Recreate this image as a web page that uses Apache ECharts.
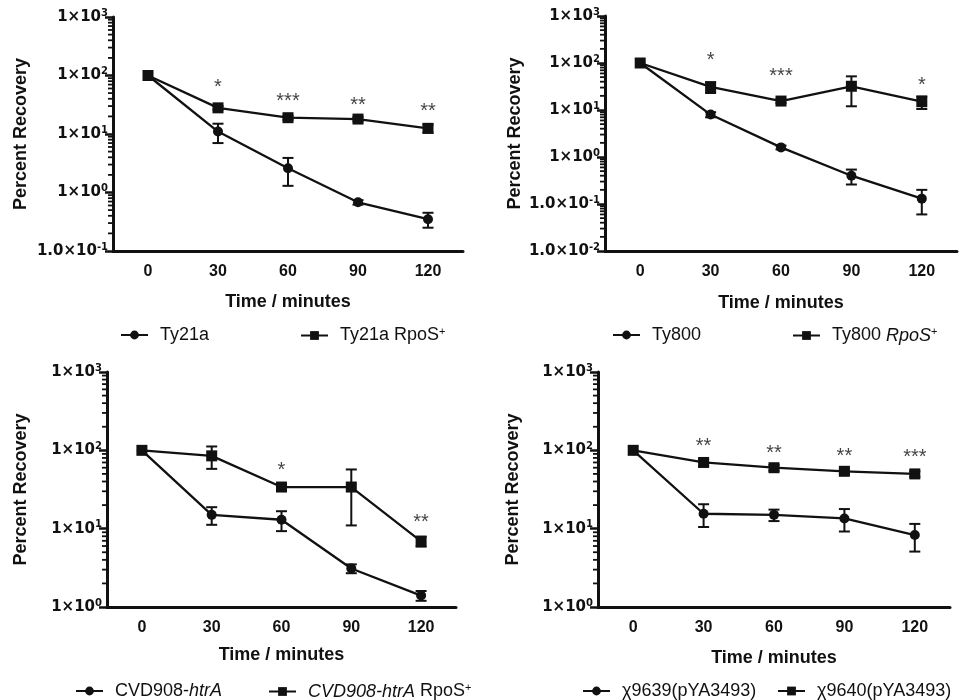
<!DOCTYPE html>
<html>
<head>
<meta charset="utf-8">
<script src="https://cdn.jsdelivr.net/npm/echarts@6/dist/echarts.min.js"></script>
<style>html,body{margin:0;padding:0;background:#fff}#c{width:972px;height:700px}</style>
</head>
<body>
<div id="c"></div>
<script>
// ---- data ----
const times = ['0', '30', '60', '90', '120'];

// Panel A
const ty21a = [100, 11, 2.6, 0.68, 0.35];
const ty21aErr = [0, 4, 1.3, 0.06, 0.1];
const ty21aRpoS = [100, 28, 19, 18, 12.5];
const ty21aRpoSErr = [0, 2, 1.5, 1.5, 2];
const starsA = ['', '*', '***', '**', '**'];
const starsAy = [null, 75, 43, 38, 29];

// Panel B
const ty800 = [100, 8, 1.6, 0.4, 0.13];
const ty800Err = [0, 1, 0.15, 0.14, 0.07];
const ty800RpoS = [100, 31, 15.5, 32, 15];
const ty800RpoSErr = [0, 8, 1.5, 20, 4.5];
const starsB = ['', '*', '***', '', '*'];
const starsBy = [null, 148, 65, null, 43];

// Panel C
const cvd = [100, 15, 13, 3.1, 1.4];
const cvdErr = [0, 3.8, 3.7, 0.4, 0.2];
const cvdRpoS = [100, 85, 34, 34, 6.9];
const cvdRpoSErr = [0, 27, 3, 23, 1];
const starsC = ['', '', '*', '', '**'];
const starsCy = [null, null, 64, null, 14];

// Panel D
const x9639 = [100, 15.5, 15, 13.5, 8.3];
const x9639Err = [0, 5, 2.5, 4.3, 3.2];
const x9640 = [100, 70, 60, 54, 50];
const x9640Err = [0, 7, 5, 4, 4];
const starsD = ['', '**', '**', '**', '***'];
const starsDy = [null, 130, 107, 97, 93];

// ---- layout / style ----
const FONT = 'Arial, "Liberation Sans", Helvetica, sans-serif';
const YFONT = '"DejaVu Sans", Arial, sans-serif';
const panels = [
  {grid:{left:113, top:17, width:350, height:234}, yMin:0.1, yMax:1000, yGap:83, xGap:42,
   s1:{name:'Ty21a', v:ty21a, e:ty21aErr}, s2:{name:'Ty21a RpoS+', v:ty21aRpoS, e:ty21aRpoSErr},
   stars:starsA, starsY:starsAy, leg:[{left:120, top:326},{left:300, top:326}]},
  {grid:{left:605, top:16, width:352, height:235}, yMin:0.01, yMax:1000, yGap:81, xGap:43,
   s1:{name:'Ty800', v:ty800, e:ty800Err}, s2:{name:'Ty800 RpoS+', v:ty800RpoS, e:ty800RpoSErr},
   stars:starsB, starsY:starsBy, leg:[{left:612, top:326},{left:792, top:326}]},
  {grid:{left:107, top:372, width:349, height:235}, yMin:1, yMax:1000, yGap:77, xGap:39,
   s1:{name:'CVD908-htrA', v:cvd, e:cvdErr}, s2:{name:'CVD908-htrA RpoS+', v:cvdRpoS, e:cvdRpoSErr},
   stars:starsC, starsY:starsCy, leg:[{left:75, top:682},{left:268, top:682}]},
  {grid:{left:598, top:372, width:352, height:235}, yMin:1, yMax:1000, yGap:76, xGap:42,
   s1:{name:'\u03c79639(pYA3493)', v:x9639, e:x9639Err}, s2:{name:'\u03c79640(pYA3493)', v:x9640, e:x9640Err},
   stars:starsD, starsY:starsDy, leg:[{left:582, top:682},{left:777, top:682}]}
];

const legendRich = {
  'Ty21a RpoS+': 'Ty21a RpoS{sup|+}',
  'Ty800 RpoS+': 'Ty800 {i|RpoS}{sup|+}',
  'CVD908-htrA': 'CVD908-{i|htrA}',
  'CVD908-htrA RpoS+': '{i|CVD908-htrA} RpoS{sup|+}'
};

function yLabel(v, min) {
  const e = Math.round(Math.log10(v));
  const mant = (min < 1) && e < 0 ? '1.0' : '1';
  return '{b|' + mant + '\u00d710}{s|' + (e < 0 ? '-' + (-e) : e) + '}';
}

const grids = [], xAxes = [], yAxes = [], series = [], legends = [];

panels.forEach((p, i) => {
  grids.push(p.grid);
  xAxes.push({
    type:'category', gridIndex:i, data:times, boundaryGap:true,
    name:'Time / minutes', nameLocation:'middle', nameGap:p.xGap,
    nameTextStyle:{fontFamily:FONT, fontWeight:'bold', fontSize:18, color:'#111'},
    axisLine:{lineStyle:{color:'#111', width:3}},
    axisTick:{alignWithLabel:true, length:7, lineStyle:{width:2.5, color:'#111'}},
    axisLabel:{fontFamily:FONT, fontWeight:'bold', fontSize:16, color:'#111', margin:13},
    splitLine:{show:false}
  });
  yAxes.push({
    type:'log', logBase:10, gridIndex:i, min:p.yMin, max:p.yMax,
    name:'Percent Recovery', nameLocation:'middle', nameGap:p.yGap, nameRotate:90,
    nameTextStyle:{fontFamily:FONT, fontWeight:'bold', fontSize:18, color:'#111'},
    axisLine:{show:true, lineStyle:{color:'#111', width:3}},
    axisTick:{show:true, length:8, lineStyle:{width:2.5, color:'#111'}},
    axisLabel:{margin:5, formatter:(v) => yLabel(v, p.yMin),
      rich:{
        b:{fontFamily:YFONT, fontWeight:'bold', fontSize:15, color:'#111'},
        s:{fontFamily:YFONT, fontWeight:'bold', fontSize:10, color:'#111', verticalAlign:'top', padding:[0,0,8,0]}
      }},
    splitLine:{show:false}
  });

  // minor ticks (2..9 per decade)
  const minor = [];
  for (let d = Math.round(Math.log10(p.yMin)); d < Math.round(Math.log10(p.yMax)); d++) {
    for (let k = 2; k <= 9; k++) minor.push([0, k * Math.pow(10, d)]);
  }
  series.push({
    type:'custom', xAxisIndex:i, yAxisIndex:i, data:minor, silent:true, clip:false,
    renderItem:(params, api) => {
      const y = api.coord([0, api.value(1)])[1];
      const x0 = params.coordSys.x;
      return {type:'line', shape:{x1:x0 - 5, y1:y, x2:x0, y2:y}, style:{stroke:'#111', lineWidth:1.8}};
    }
  });

  [p.s1, p.s2].forEach((s, j) => {
    const sym = j === 0 ? 'circle' : 'rect';
    series.push({
      type:'line', name:s.name, xAxisIndex:i, yAxisIndex:i, data:s.v,
      symbol:sym, symbolSize:j === 0 ? 10 : 11,
      lineStyle:{color:'#111', width:2.3}, itemStyle:{color:'#111'},
      z:3
    });
    const eb = [];
    s.e.forEach((e, k) => { if (e > 0) eb.push([k, s.v[k] - e, s.v[k] + e]); });
    series.push({
      type:'custom', xAxisIndex:i, yAxisIndex:i, data:eb, silent:true, z:2,
      renderItem:(params, api) => {
        const lo = api.coord([api.value(0), api.value(1)]);
        const hi = api.coord([api.value(0), api.value(2)]);
        const w = 5.5;
        const st = {stroke:'#111', lineWidth:2};
        return {type:'group', children:[
          {type:'line', shape:{x1:lo[0], y1:lo[1], x2:hi[0], y2:hi[1]}, style:st},
          {type:'line', shape:{x1:lo[0]-w, y1:lo[1], x2:lo[0]+w, y2:lo[1]}, style:st},
          {type:'line', shape:{x1:hi[0]-w, y1:hi[1], x2:hi[0]+w, y2:hi[1]}, style:st}
        ]};
      }
    });
    legends.push({
      data:[s.name], left:p.leg[j].left, top:p.leg[j].top, itemWidth:27, itemHeight:11, padding:0,
      formatter:(n) => legendRich[n] || n,
      textStyle:{fontFamily:FONT, fontSize:18, color:'#111', padding:[0,0,0,7],
        rich:{
          i:{fontFamily:FONT, fontSize:18, fontStyle:'italic', color:'#111'},
          sup:{fontFamily:FONT, fontSize:11, color:'#111', verticalAlign:'top', padding:[0,0,8,0]}
        }}
    });
  });

  const starData = [];
  p.stars.forEach((t, k) => { if (t) starData.push({value:[k, p.starsY[k]], txt:t}); });
  series.push({
    type:'scatter', xAxisIndex:i, yAxisIndex:i, data:starData, symbol:'circle', symbolSize:1,
    itemStyle:{color:'rgba(0,0,0,0)'}, silent:true, z:4,
    label:{show:true, position:'inside', offset:[0, 5], formatter:(q) => q.data.txt,
      fontFamily:FONT, fontSize:20, color:'#111'}
  });
});

const chart = echarts.init(document.getElementById('c'));
chart.setOption({
  animation:false,
  backgroundColor:'#fff',
  grid:grids, xAxis:xAxes, yAxis:yAxes, legend:legends, series:series
});
</script>
</body>
</html>
